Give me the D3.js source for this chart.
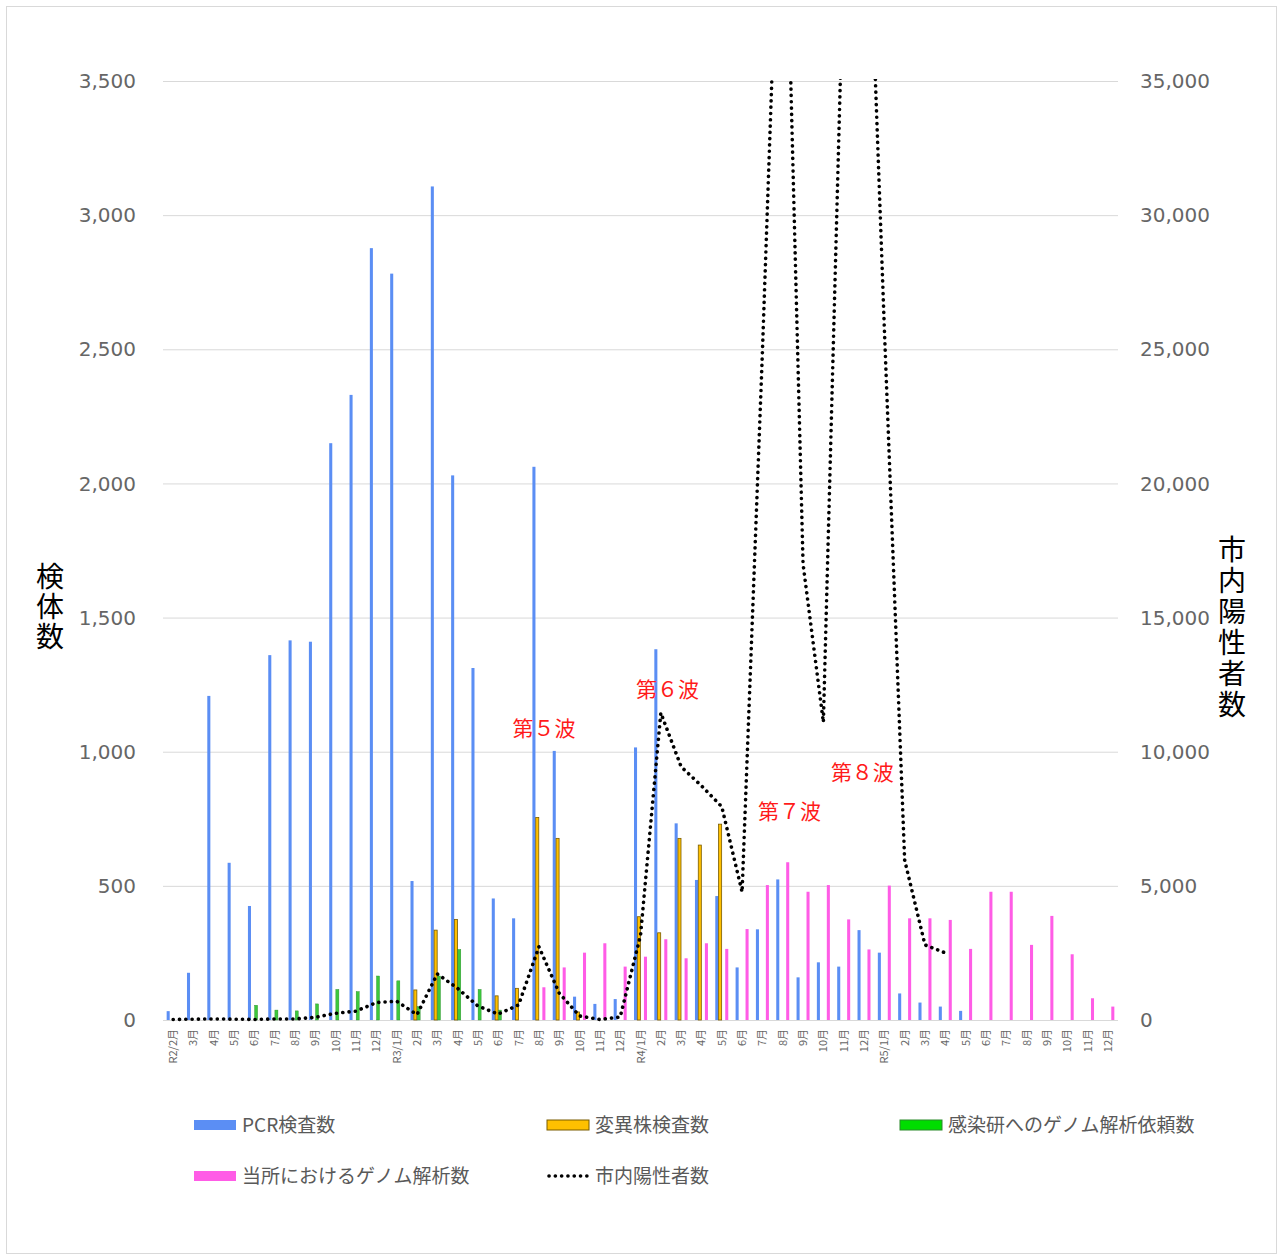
<!DOCTYPE html>
<html><head><meta charset="utf-8">
<script src="https://cdn.jsdelivr.net/npm/d3@7"></script>
<style>
html,body{margin:0;padding:0;background:#fff;}
svg{display:block;}
</style></head>
<body>
<svg id="chart" width="1282" height="1259"></svg>
<script>
// ---- data ----
const categories = ["R2/2月","3月","4月","5月","6月","7月","8月","9月","10月","11月","12月",
  "R3/1月","2月","3月","4月","5月","6月","7月","8月","9月","10月","11月","12月",
  "R4/1月","2月","3月","4月","5月","6月","7月","8月","9月","10月","11月","12月",
  "R5/1月","2月","3月","4月","5月","6月","7月","8月","9月","10月","11月","12月"];
const pcrTests = [33,176,1208,586,425,1360,1415,1410,2150,2330,2877,
  2782,518,3107,2030,1312,453,379,2062,1003,87,60,78,
  1016,1382,733,522,462,196,338,524,159,215,199,335,
  251,99,65,50,34,0,0,0,0,0,0,0];
const variantTests = [0,0,0,0,0,0,0,0,0,0,0,
  0,112,335,375,0,90,118,755,677,30,0,0,
  385,325,677,652,730,0,0,0,0,0,0,0,
  0,0,0,0,0,0,0,0,0,0,0,0];
const niidRequests = [0,0,0,0,55,37,34,60,114,106,164,
  146,50,164,263,114,37,0,0,0,0,0,0,
  0,0,0,0,0,0,0,0,0,0,0,0,
  0,0,0,0,0,0,0,0,0,0,0,0];
const inHouseGenome = [0,0,0,0,0,0,0,0,0,0,0,
  0,0,0,0,0,0,0,122,196,251,286,199,
  236,301,230,286,265,339,503,588,478,503,375,263,
  501,379,379,373,265,478,478,280,388,245,81,50];
const cityPositives = [20,30,40,30,20,40,40,100,250,330,650,
  700,200,1720,1180,520,220,560,2730,1000,150,20,110,
  3150,11450,9440,8730,7950,4770,24900,46800,17000,11100,39800,46800,
  25800,5960,2800,2500,null,null,null,null,null,null,null,null];
const leftTicks = [0,500,1000,1500,2000,2500,3000,3500];
const rightTicks = [0,5000,10000,15000,20000,25000,30000,35000];
const seriesNames = ["PCR検査数","変異株検査数","感染研へのゲノム解析依頼数","当所におけるゲノム解析数","市内陽性者数"];
// wave labels: category position (fractional index) and value on left axis
const waveLabels = ["第５波","第６波","第７波","第８波"];
const waveAt = [18.25, 24.33, 30.33, 33.92];
const waveValue = [1058, 1204, 749, 894];

// ---- styles ----
const colors = {pcr:"#5b8ef4", variant:"#ffc000", niid:"#3cc83c", inhouse:"#ff5ce6"};
const jp = "'Noto Sans CJK JP','Noto Sans',sans-serif";
const numFont = "'DejaVu Sans',sans-serif";

const svg = d3.select("#chart");
svg.append("rect").attr("x",6.5).attr("y",6.5).attr("width",1270).attr("height",1247)
  .attr("fill","#fff").attr("stroke","#d9d9d9");

const L = 163, R = 1118, T = 81, B = 1020;
const x = d3.scaleBand().domain(d3.range(categories.length)).range([L,R]);
const xc = d3.scaleLinear().domain([-0.5, categories.length-0.5]).range([L,R]);
const yL = d3.scaleLinear().domain([0,3500]).range([B,T]);
const yR = d3.scaleLinear().domain([0,35000]).range([B,T]);
const keys = ["pcr","variant","niid","inhouse"];
const sub = d3.scaleBand().domain(keys).range([-6.5,6.5]).paddingInner(0.08);

// gridlines
svg.append("g").selectAll("line").data(leftTicks).join("line")
  .attr("x1",L).attr("x2",R).attr("y1",d=>yL(d)+0.5).attr("y2",d=>yL(d)+0.5)
  .attr("stroke","#d9d9d9").attr("stroke-width",1);

// left axis labels
svg.append("g").selectAll("text").data(leftTicks).join("text")
  .attr("x",136).attr("y",d=>yL(d)).attr("dy","0.36em").attr("text-anchor","end")
  .attr("font-family",numFont).attr("font-size",20).attr("fill","#666")
  .text(d=>d3.format(",")(d));
// right axis labels
svg.append("g").selectAll("text").data(rightTicks).join("text")
  .attr("x",1140).attr("y",d=>yR(d)).attr("dy","0.36em").attr("text-anchor","start")
  .attr("font-family",numFont).attr("font-size",20).attr("fill","#666")
  .text(d=>d3.format(",")(d));

// x labels
svg.append("g").selectAll("text").data(categories).join("text")
  .attr("transform",(d,i)=>`translate(${x(i)+x.bandwidth()/2+4},1029) rotate(-90)`)
  .attr("text-anchor","end").attr("font-family",jp).attr("font-size",11).attr("fill","#666")
  .text(d=>d);

// bars
const seriesData = {pcr:pcrTests, variant:variantTests, niid:niidRequests, inhouse:inHouseGenome};
const bw = sub.bandwidth();
keys.forEach(k=>{
  const g = svg.append("g");
  g.selectAll("rect").data(seriesData[k].map((v,i)=>({v,i})).filter(d=>d.v>0)).join("rect")
    .attr("x",d=>x(d.i)+x.bandwidth()/2+sub(k))
    .attr("width",bw)
    .attr("y",d=>yL(d.v))
    .attr("height",d=>B-yL(d.v))
    .attr("fill",colors[k])
    .attr("stroke",k==="variant"?"#7a5c00":(k==="niid"?"#2a8a2a":"none"))
    .attr("stroke-width",k==="variant"?0.8:(k==="niid"?0.4:0));
});

// line (clipped to plot)
svg.append("clipPath").attr("id","plotclip").append("rect")
  .attr("x",L).attr("y",T-2).attr("width",R-L).attr("height",B-T+6);
const line = d3.line().defined(d=>d!==null)
  .x((d,i)=>x(i)+x.bandwidth()/2).y(d=>yR(d));
svg.append("path").datum(cityPositives).attr("clip-path","url(#plotclip)")
  .attr("d",line).attr("fill","none").attr("stroke","#000").attr("stroke-width",3.6)
  .attr("stroke-linecap","round").attr("stroke-dasharray","0.1,6.2");

// wave annotations
svg.append("g").selectAll("text").data(waveLabels).join("text")
  .attr("x",(d,i)=>xc(waveAt[i])).attr("y",(d,i)=>yL(waveValue[i]))
  .attr("text-anchor","middle").attr("font-family",jp).attr("font-size",21).attr("fill","#ff1a1a")
  .text(d=>d);

// axis titles (vertical writing)
svg.append("text").attr("x",50).attr("y",607)
  .attr("font-family",jp).attr("font-size",28).attr("fill","#000")
  .attr("text-anchor","middle").attr("letter-spacing",2)
  .style("writing-mode","vertical-rl").style("text-orientation","upright")
  .text("検体数");
svg.append("text").attr("x",1232).attr("y",628)
  .attr("font-family",jp).attr("font-size",28).attr("fill","#000")
  .attr("text-anchor","middle").attr("letter-spacing",3)
  .style("writing-mode","vertical-rl").style("text-orientation","upright")
  .text("市内陽性者数");

// legend
const legend = [
  {name:seriesNames[0], x:194, y:1125, type:"rect", fill:colors.pcr, stroke:"none"},
  {name:seriesNames[1], x:547, y:1125, type:"rect", fill:colors.variant, stroke:"#7a5c00"},
  {name:seriesNames[2], x:900, y:1125, type:"rect", fill:"#00dd00", stroke:"#2a8a2a"},
  {name:seriesNames[3], x:194, y:1176, type:"rect", fill:colors.inhouse, stroke:"none"},
  {name:seriesNames[4], x:547, y:1176, type:"line"}
];
const lg = svg.append("g").selectAll("g").data(legend).join("g");
lg.filter(d=>d.type==="rect").append("rect")
  .attr("x",d=>d.x).attr("y",d=>d.y-5).attr("width",42).attr("height",10)
  .attr("fill",d=>d.fill).attr("stroke",d=>d.stroke).attr("stroke-width",1);
lg.filter(d=>d.type==="line").append("line")
  .attr("x1",d=>d.x+2).attr("x2",d=>d.x+42).attr("y1",d=>d.y).attr("y2",d=>d.y)
  .attr("stroke","#000").attr("stroke-width",3.6).attr("stroke-linecap","round").attr("stroke-dasharray","0.1,6.2");
lg.append("text").attr("x",d=>d.x+48).attr("y",d=>d.y).attr("dy","0.36em")
  .attr("font-family",jp).attr("font-size",19).attr("fill","#595959").text(d=>d.name);
</script>
</body></html>
